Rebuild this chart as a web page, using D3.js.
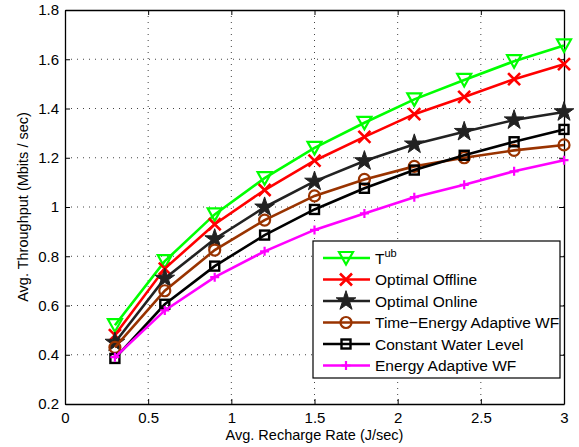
<!DOCTYPE html>
<html>
<head>
<meta charset="utf-8">
<script src="https://cdn.jsdelivr.net/npm/d3@7"></script>
<style>
  body { margin: 0; background: #fff; }
  svg { display: block; font-family: "Liberation Sans", Arial, sans-serif; }
</style>
</head>
<body>
<svg width="579" height="447"></svg>
<script>
var svg = d3.select("svg");
var margin = { top: 10, right: 15, bottom: 43, left: 65 };
var innerWidth = 564 - margin.left;     // right edge of the axes box at 564
var innerHeight = 404 - margin.top;     // bottom edge at 404

// recharge rates (J/sec)
var rates = [0.3, 0.6, 0.9, 1.2, 1.5, 1.8, 2.1, 2.4, 2.7, 3.0];

// throughput values (Mbits/sec) per scheme
var upperBound   = [0.52, 0.78, 0.97, 1.117, 1.24, 1.342, 1.437, 1.516, 1.592, 1.656];
var optOffline   = [0.48, 0.75, 0.93, 1.069, 1.188, 1.285, 1.377, 1.447, 1.519, 1.58];
var optOnline    = [0.45, 0.71, 0.87, 0.999, 1.104, 1.187, 1.255, 1.306, 1.353, 1.386];
var timeEnergyWF = [0.43, 0.66, 0.825, 0.947, 1.045, 1.112, 1.165, 1.2, 1.23, 1.252];
var constWater   = [0.385, 0.605, 0.76, 0.886, 0.99, 1.076, 1.15, 1.21, 1.265, 1.315];
var energyWF     = [0.39, 0.58, 0.715, 0.82, 0.907, 0.974, 1.04, 1.09, 1.145, 1.19];

var xTicks = [0, 0.5, 1, 1.5, 2, 2.5, 3];
var yTicks = [0.2, 0.4, 0.6, 0.8, 1, 1.2, 1.4, 1.6, 1.8];

var series = [
  { name: "T", sup: "ub", values: upperBound, color: "#00ff00", marker: "tri" },
  { name: "Optimal Offline", values: optOffline, color: "#ff0000", marker: "x" },
  { name: "Optimal Online", values: optOnline, color: "#222222", marker: "star" },
  { name: "Time\u2212Energy Adaptive WF", values: timeEnergyWF, color: "#993300", marker: "circle" },
  { name: "Constant Water Level", values: constWater, color: "#000000", marker: "square" },
  { name: "Energy Adaptive WF", values: energyWF, color: "#ff00ff", marker: "plus" }
];

var group = svg.append("g")
  .attr("transform", "translate(" + margin.left + "," + margin.top + ")");

var x = d3.scaleLinear().domain([0, 3]).range([0, innerWidth]);
var y = d3.scaleLinear().domain([0.2, 1.8]).range([innerHeight, 0]);

// grid (dotted)
group.append("g")
  .selectAll("line")
  .data(xTicks.slice(1, -1))
  .enter().append("line")
  .attr("x1", d => x(d)).attr("x2", d => x(d))
  .attr("y1", 0).attr("y2", innerHeight)
  .attr("stroke", "#444").attr("stroke-width", 1)
  .attr("stroke-dasharray", "1,5");

group.append("g")
  .selectAll("line")
  .data(yTicks.slice(1, -1))
  .enter().append("line")
  .attr("x1", 0).attr("x2", innerWidth)
  .attr("y1", d => y(d)).attr("y2", d => y(d))
  .attr("stroke", "#444").attr("stroke-width", 1)
  .attr("stroke-dasharray", "1,5");

// axes, ticks pointing inward like MATLAB
group.append("g")
  .attr("transform", `translate(0, ${innerHeight})`)
  .call(d3.axisBottom(x).tickValues(xTicks).tickFormat(d3.format("")).tickSizeInner(-5).tickSizeOuter(0).tickPadding(8));
group.append("g")
  .call(d3.axisLeft(y).tickValues(yTicks).tickFormat(d3.format("")).tickSizeInner(-5).tickSizeOuter(0).tickPadding(6));
// top and right box edges with ticks only
var topAxis = group.append("g")
  .call(d3.axisTop(x).tickValues(xTicks).tickSizeInner(-5).tickSizeOuter(0));
var rightAxis = group.append("g")
  .attr("transform", `translate(${innerWidth}, 0)`)
  .call(d3.axisRight(y).tickValues(yTicks).tickSizeInner(-5).tickSizeOuter(0));
topAxis.selectAll("text").remove();
rightAxis.selectAll("text").remove();

group.selectAll(".domain").attr("stroke", "#000").attr("stroke-width", 1.3);
group.selectAll(".tick line").attr("stroke", "#000");
group.selectAll(".tick text")
  .attr("font-family", "'Liberation Sans', Arial, sans-serif")
  .attr("font-size", "15px").attr("fill", "#000");

// Y-axis label
group.append("text")
  .attr("transform", "rotate(-90)")
  .attr("x", -innerHeight / 2)
  .attr("y", -37)
  .attr("text-anchor", "middle")
  .attr("font-size", "14.5px")
  .text("Avg. Throughput (Mbits / sec)");

// X-axis label
group.append("text")
  .attr("x", innerWidth / 2)
  .attr("y", innerHeight + 36)
  .attr("text-anchor", "middle")
  .attr("font-size", "14.5px")
  .text("Avg. Recharge Rate (J/sec)");

function drawMarker(sel, type, color) {
  if (type === "tri") {
    sel.append("path").attr("d", "M-7,-6 L7,-6 L0,6.5 Z")
      .attr("fill", "none").attr("stroke", color).attr("stroke-width", 2.2);
  } else if (type === "x") {
    sel.append("path").attr("d", "M-6,-6 L6,6 M-6,6 L6,-6")
      .attr("stroke", color).attr("stroke-width", 2.6);
  } else if (type === "star") {
    sel.append("path").attr("d", d3.symbol(d3.symbolStar, 120)())
      .attr("fill", color).attr("stroke", color).attr("stroke-width", 1);
  } else if (type === "circle") {
    sel.append("circle").attr("r", 5.5)
      .attr("fill", "none").attr("stroke", color).attr("stroke-width", 2.2);
  } else if (type === "square") {
    sel.append("rect").attr("x", -4.5).attr("y", -4.5).attr("width", 9).attr("height", 9)
      .attr("fill", "none").attr("stroke", color).attr("stroke-width", 2.4);
  } else if (type === "plus") {
    sel.append("path").attr("d", "M-4.5,0 L4.5,0 M0,-4.5 L0,4.5")
      .attr("stroke", color).attr("stroke-width", 2.2);
  }
}

var line = d3.line().x((d, i) => x(rates[i])).y(d => y(d));

series.forEach(s => {
  var g = group.append("g");
  g.append("path")
    .attr("d", line(s.values))
    .attr("fill", "none")
    .attr("stroke", s.color)
    .attr("stroke-width", 2.6);
  s.values.forEach((v, i) => {
    var m = g.append("g").attr("transform", `translate(${x(rates[i])}, ${y(v)})`);
    drawMarker(m, s.marker, s.color);
  });
});

// legend
var legend = svg.append("g").attr("transform", "translate(313, 241)");
legend.append("rect")
  .attr("x", 0).attr("y", 0).attr("width", 247).attr("height", 137)
  .attr("fill", "#fff").attr("stroke", "#000").attr("stroke-width", 1.2);

series.forEach((s, i) => {
  var yy = 17 + i * 21.5;
  var row = legend.append("g");
  row.append("line")
    .attr("x1", 10).attr("x2", 57).attr("y1", yy).attr("y2", yy)
    .attr("stroke", s.color).attr("stroke-width", 2.6);
  var m = row.append("g").attr("transform", `translate(33, ${yy})`);
  drawMarker(m, s.marker, s.color);
  var t = row.append("text")
    .attr("x", 62).attr("y", yy + 5.5)
    .attr("font-size", "15.5px")
    .text(s.name);
  if (s.sup) {
    t.append("tspan").attr("dy", -7).attr("font-size", "11px").text(s.sup);
  }
});
</script>
</body>
</html>
